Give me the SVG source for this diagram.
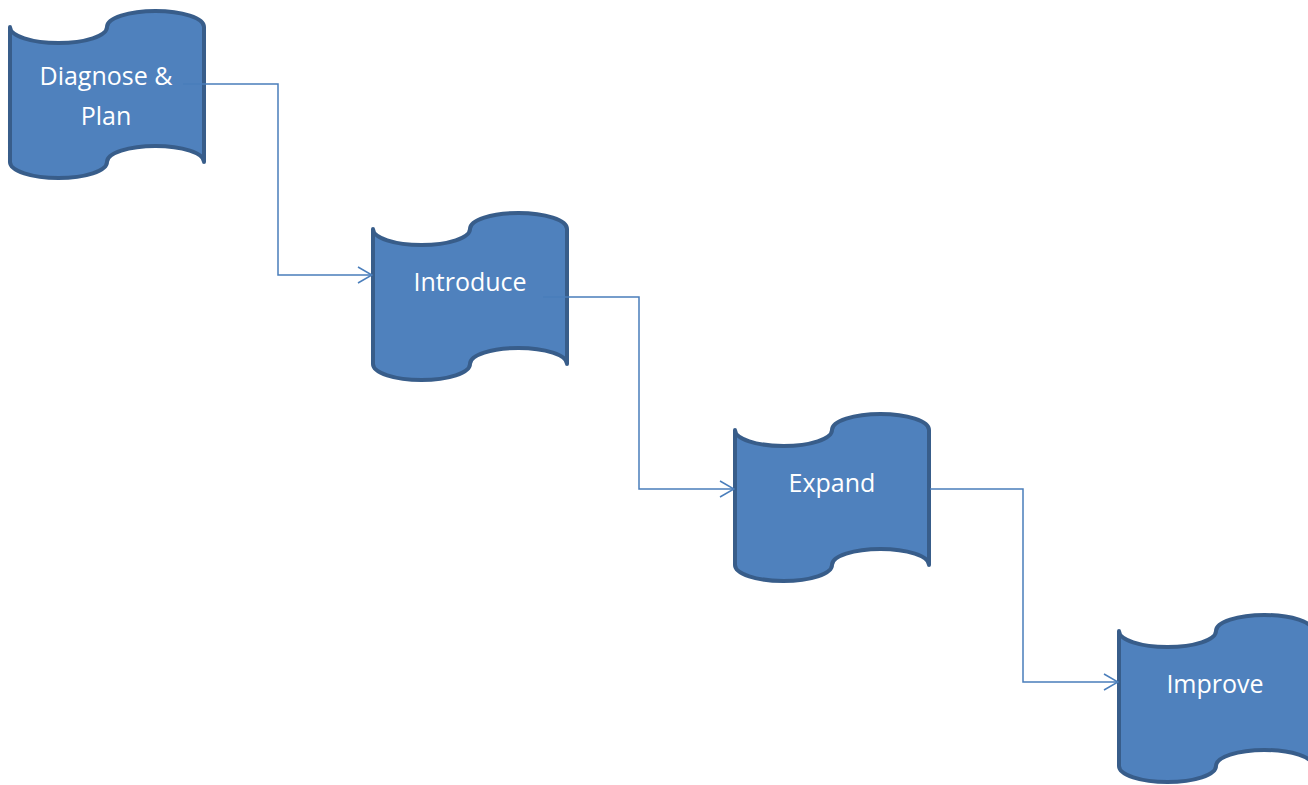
<svg xmlns="http://www.w3.org/2000/svg" xmlns:xlink="http://www.w3.org/1999/xlink" width="1308" height="785" viewBox="0 0 1308 785">
  <style>
    .tape { fill: #4F81BD; stroke: #385D8A; stroke-width: 4; stroke-linejoin: round; }
    .label { fill: #FFFFFF; font-family: "Open Sans", "Liberation Sans", sans-serif; font-size: 25px; text-anchor: middle; }
    .conn { fill: none; stroke: #4A7EBB; stroke-width: 1.5; }
  </style>
  <defs>
    <path id="tapeShape" d="M0,0 A48.5,16 0 0 0 97,0 A48.5,16 0 0 1 194,0 L194,135 A48.5,16 0 0 0 97,135 A48.5,16 0 0 1 0,135 Z"/>
    <marker id="arrow" markerWidth="16" markerHeight="18" refX="15" refY="9" orient="auto" markerUnits="userSpaceOnUse">
      <path d="M1,1 L15,9 L1,17" fill="none" stroke="#4A7EBB" stroke-width="1.5"/>
    </marker>
  </defs>

  <g id="node-diagnose">
    <use xlink:href="#tapeShape" href="#tapeShape" class="tape" transform="translate(10,27)"/>
    <text class="label" x="106" y="85">Diagnose &amp;</text>
    <text class="label" x="106" y="125">Plan</text>
  </g>
  <g id="node-introduce">
    <use xlink:href="#tapeShape" href="#tapeShape" class="tape" transform="translate(373,229)"/>
    <text class="label" x="470" y="291">Introduce</text>
  </g>
  <g id="node-expand">
    <use xlink:href="#tapeShape" href="#tapeShape" class="tape" transform="translate(735,430)"/>
    <text class="label" x="832" y="492">Expand</text>
  </g>
  <g id="node-improve">
    <use xlink:href="#tapeShape" href="#tapeShape" class="tape" transform="translate(1119,631)"/>
    <text class="label" x="1215" y="693">Improve</text>
  </g>

  <g id="connectors">
    <polyline class="conn" points="183,84 278,84 278,275 372,275" marker-end="url(#arrow)"/>
    <polyline class="conn" points="543,297 639,297 639,489 734,489" marker-end="url(#arrow)"/>
    <polyline class="conn" points="930,489 1023,489 1023,682 1118,682" marker-end="url(#arrow)"/>
  </g>
</svg>
